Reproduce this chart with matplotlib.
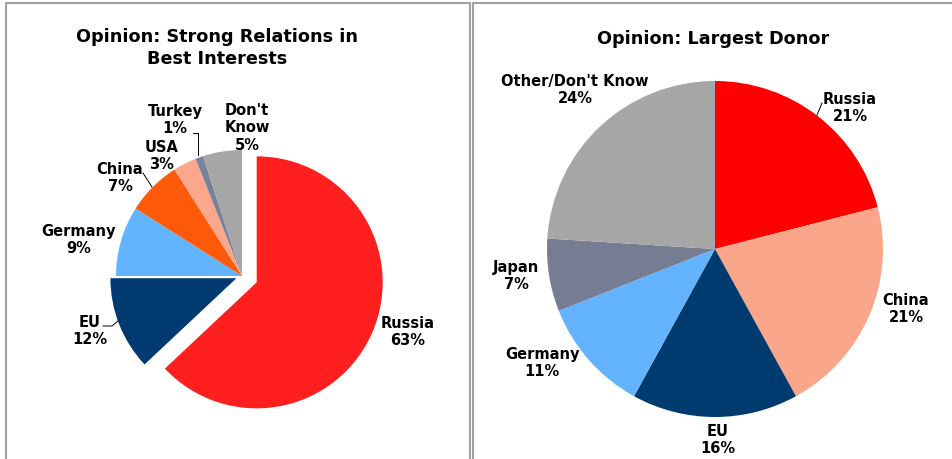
import matplotlib
matplotlib.use("Agg")
import matplotlib.pyplot as plt

# DATA
##############################################################################
left_title = "Opinion: Strong Relations in\nBest Interests"
left_labels = ["Russia", "EU", "Germany", "China", "USA", "Turkey", "Don't\nKnow"]
left_values = [63, 12, 9, 7, 3, 1, 5]
left_colors = ["#ff1f1f", "#003a70", "#63b4ff", "#ff5a0a", "#fca78b", "#7a8299", "#a6a6a6"]

right_title = "Opinion: Largest Donor"
right_labels = ["Russia", "China", "EU", "Germany", "Japan", "Other/Don't Know"]
right_values = [21, 21, 16, 11, 7, 24]
right_colors = ["#ff0000", "#faa68a", "#003b6f", "#63b3ff", "#767d93", "#a6a6a6"]

# layout (pixel coordinates, y measured from top)
##############################################################################
W, H = 952, 459
left_pos = [(408, 332), (90, 331), (79, 240), (120, 178), (162, 156), (175, 120), (247, 128)]
right_pos = [(850, 108), (906, 309), (718, 440), (542, 363), (516, 276), (575, 90)]


def fy(y):  # flip screen y to data y
    return H - y


fig = plt.figure(figsize=(W / 100, H / 100), dpi=100)
ax = fig.add_axes([0, 0, 1, 1])

# left pie
ax.pie(left_values, radius=126, center=(242, fy(276)), startangle=90,
       counterclock=False, explode=[16, 6, 0, 0, 0, 0, 0],
       colors=left_colors, wedgeprops=dict(linewidth=0))

# right pie
ax.pie(right_values, radius=168, center=(715, fy(249)), startangle=90,
       counterclock=False, colors=right_colors, wedgeprops=dict(linewidth=0))

ax.set_xlim(0, W)
ax.set_ylim(0, H)
ax.set_aspect('equal')
ax.axis('off')

txt = dict(ha='center', va='center', fontsize=10.5, fontweight='bold',
           family='DejaVu Sans', linespacing=1.2)

for lab, val, (x, y) in zip(left_labels, left_values, left_pos):
    ax.text(x, fy(y), f"{lab}\n{val}%", **txt)
for lab, val, (x, y) in zip(right_labels, right_values, right_pos):
    ax.text(x, fy(y), f"{lab}\n{val}%", **txt)

# leader lines
ax.plot([143, 152], [fy(173), fy(187)], c='k', lw=0.7)
ax.plot([193, 198, 198], [fy(133), fy(133), fy(155)], c='k', lw=0.7)
ax.plot([103, 112, 118], [fy(326), fy(326), fy(321)], c='k', lw=0.7)
ax.plot([817, 822], [fy(115), fy(103)], c='k', lw=0.7)

# titles
ax.text(217, fy(48), left_title, ha='center', va='center', fontsize=12.7,
        fontweight='bold', linespacing=1.35)
ax.text(713, fy(39), right_title, ha='center', va='center', fontsize=12.7,
        fontweight='bold')

# panel borders
bc = '#a0a0a0'
ax.plot([6, 6, 470, 470], [0, fy(3), fy(3), 0], c=bc, lw=1.5)
ax.plot([473, 473, W], [0, fy(3), fy(3)], c=bc, lw=1.5)

fig.savefig("out.png", dpi=100)
